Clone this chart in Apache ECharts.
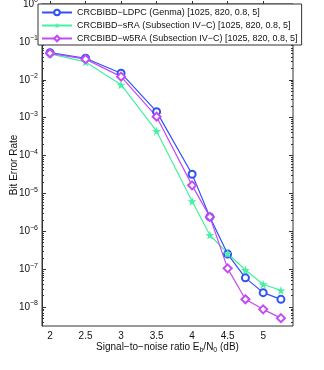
<!DOCTYPE html>
<html>
<head>
<meta charset="utf-8">
<script src="https://cdn.jsdelivr.net/npm/echarts@6/dist/echarts.min.js"></script>
<style>
  html, body { margin: 0; padding: 0; background: #fff; }
  #chart { width: 324px; height: 370px; }
</style>
</head>
<body>
<div id="chart"></div>
<script>
// Eb/N0 points (dB)
const snr = [2, 2.5, 3, 3.5, 4, 4.25, 4.5, 4.75, 5, 5.25]
// bit error rate per scheme
const berLdpc = [0.052, 0.037, 0.0149, 1.44e-3, 3.2e-5, 2.4e-6, 2.5e-7, 5.9e-8, 2.4e-8, 1.6e-8]
const berSra = [0.048, 0.0296, 7.4e-3, 4.4e-4, 6.2e-6, 8e-7, 2.6e-7, 9.5e-8, 4e-8, 2.75e-8]
const berW5ra = [0.050, 0.035, 0.0121, 1.06e-3, 1.63e-5, 2.4e-6, 1.05e-7, 1.6e-8, 8.7e-9, 5.1e-9]
const names = [
  'CRCBIBD\u2212LDPC (Genma) [1025, 820, 0.8, 5]',
  'CRCBIBD\u2212sRA (Subsection IV\u2212C) [1025, 820, 0.8, 5]',
  'CRCBIBD\u2212w5RA (Subsection IV\u2212C) [1025, 820, 0.8, 5]'
]
const xTicks = [2, 2.5, 3, 3.5, 4, 4.5, 5]
const yExponents = [-8, -7, -6, -5, -4, -3, -2, -1, 0]

const colors = ['#3052f5', '#45f0a0', '#c44af5']
const star = 'path://M50,0 L61,35 L98,35 L68,57 L79,91 L50,70 L21,91 L32,57 L2,35 L39,35 Z'

const xRange = { min: 1.887, max: 5.42 }
const yRange = { min: -8.5, max: 0 }

// minor ticks of a log axis: 2..9 in each decade
const minorY = []
yExponents.forEach(e => {
  for (let k = 2; k <= 9; k++) {
    const v = e - 1 + Math.log10(k)
    if (v > yRange.min && v < yRange.max) minorY.push(v)
  }
})

const toLog = arr => arr.map((v, i) => [snr[i], Math.log10(v)])
const font = 'Liberation Sans, Arial, sans-serif'
const gridBox = { left: 42, top: 4, width: 251, height: 322, outerBoundsMode: 'none', containLabel: false }

function tickAxis(type, pos, ticks, len, range, gridIndex) {
  return Object.assign({
    type: 'value',
    position: pos,
    gridIndex: gridIndex,
    axisLine: { show: false },
    splitLine: { show: false },
    axisTick: { show: ticks.length > 0, inside: true, length: len, customValues: ticks, lineStyle: { color: '#333' } },
    axisLabel: { show: false }
  }, range)
}

const chart = echarts.init(document.getElementById('chart'))
chart.setOption({
  animation: false,
  textStyle: { fontFamily: font },
  grid: [
    Object.assign({ show: true, borderColor: '#333', borderWidth: 1 }, gridBox),
    Object.assign({ show: false }, gridBox)
  ],
  legend: {
    orient: 'vertical',
    left: 38,
    top: 4,
    backgroundColor: '#fff',
    borderColor: '#333',
    borderWidth: 1,
    borderRadius: 0,
    padding: [4, 4, 2, 3],
    itemGap: 4,
    itemWidth: 30,
    itemHeight: 7,
    textStyle: { fontSize: 9, color: '#111', fontFamily: font },
    data: names
  },
  xAxis: [
    Object.assign({
      type: 'value',
      position: 'bottom',
      gridIndex: 0,
      name: '{t|Signal\u2212to\u2212noise ratio E}{sub|b}{t|/N}{sub|0}{t| (dB)}',
      nameLocation: 'middle',
      nameGap: 15,
      nameMoveOverlap: false,
      nameTextStyle: {
        rich: {
          t: { fontSize: 10, color: '#111', fontFamily: font },
          sub: { fontSize: 7, color: '#111', fontFamily: font, padding: [6, 0, 0, 0] }
        }
      },
      axisLine: { lineStyle: { color: '#333' } },
      splitLine: { show: false },
      axisTick: { inside: true, length: 3, customValues: xTicks, lineStyle: { color: '#333' } },
      axisLabel: { customValues: xTicks, fontSize: 10, color: '#111', margin: 5 }
    }, xRange),
    tickAxis('value', 'top', xTicks, 3, xRange, 0),
    tickAxis('value', 'bottom', [], 0, xRange, 1)
  ],
  yAxis: [
    Object.assign(tickAxis('value', 'left', yExponents, 4, yRange, 0), {
      name: 'Bit Error Rate',
      nameLocation: 'middle',
      nameGap: 23,
      nameMoveOverlap: false,
      nameTextStyle: { fontSize: 10, color: '#111' },
      axisLine: { show: true, lineStyle: { color: '#333' } },
      axisLabel: {
        show: true,
        customValues: yExponents,
        margin: 4,
        formatter: v => '{b|10}{s|' + (v === 0 ? '0' : '\u2212' + Math.abs(v)) + '}',
        rich: {
          b: { fontSize: 10, color: '#111' },
          s: { fontSize: 7, color: '#111', padding: [0, 0, 7, 0] }
        }
      }
    }),
    tickAxis('value', 'right', yExponents, 4, yRange, 0),
    tickAxis('value', 'left', minorY, 2, yRange, 1),
    tickAxis('value', 'right', minorY, 2, yRange, 1)
  ],
  series: [
    { name: names[0], type: 'line', data: toLog(berLdpc), symbol: 'emptyCircle', symbolSize: 7,
      itemStyle: { color: colors[0], borderWidth: 1.1 }, lineStyle: { color: colors[0], width: 1.2 } },
    { name: names[1], type: 'line', data: toLog(berSra), symbol: star, symbolSize: 9,
      itemStyle: { color: colors[1] }, lineStyle: { color: colors[1], width: 1.2 } },
    { name: names[2], type: 'line', data: toLog(berW5ra), symbol: 'emptyDiamond', symbolSize: 8,
      itemStyle: { color: colors[2], borderWidth: 1.1 }, lineStyle: { color: colors[2], width: 1.2 } }
  ]
})
</script>
</body>
</html>
